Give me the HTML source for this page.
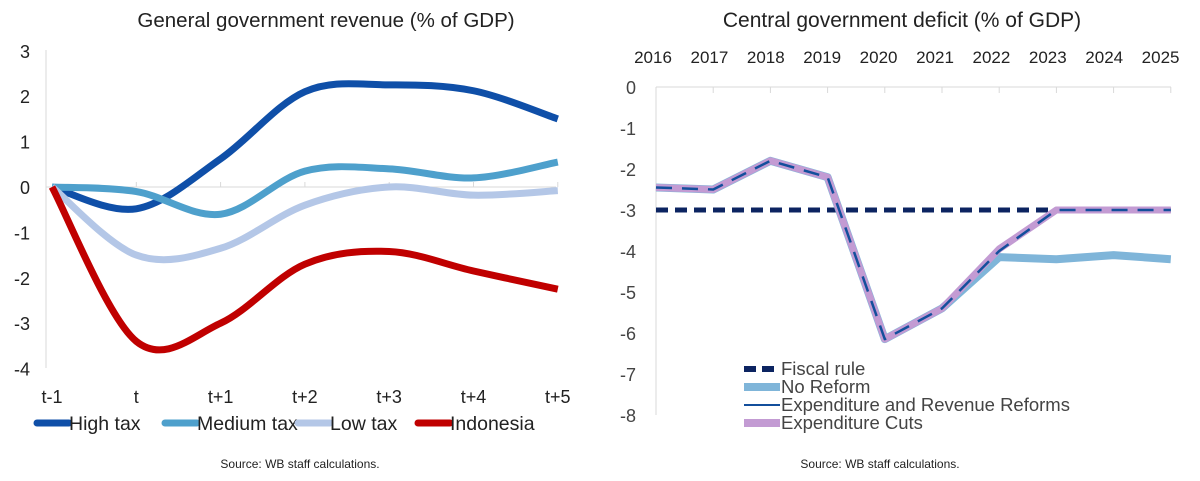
<!DOCTYPE html>
<html><head><meta charset="utf-8"><style>
body{margin:0;background:#fff;width:1200px;height:481px;overflow:hidden;font-family:"Liberation Sans",sans-serif}
svg{position:absolute;left:0;top:0}
</style></head><body>
<svg width="1200" height="481" id="s">
<text x="326" y="27" font-size="20.5" text-anchor="middle" fill="#222">General government revenue (% of GDP)</text>
<text x="902" y="27" font-size="21" text-anchor="middle" fill="#222">Central government deficit (% of GDP)</text>
<text x="300" y="468" font-size="12" text-anchor="middle" fill="#222">Source: WB staff calculations.</text>
<text x="880" y="468" font-size="12" text-anchor="middle" fill="#222">Source: WB staff calculations.</text>
<g id="L"></g><g id="R"></g>
</svg>
<script>
// left chart data
const leftCats=["t-1","t","t+1","t+2","t+3","t+4","t+5"];
const leftTicks=[3,2,1,0,-1,-2,-3,-4];
const highTax=[0,-0.48,0.62,2.1,2.25,2.12,1.5];
const medTax=[0,-0.1,-0.6,0.35,0.4,0.2,0.55];
const lowTax=[0,-1.5,-1.35,-0.4,0.0,-0.18,-0.08];
const indonesia=[0,-3.4,-3.0,-1.7,-1.42,-1.85,-2.25];
// right chart data
const years=["2016","2017","2018","2019","2020","2021","2022","2023","2024","2025"];
const rightTicks=[0,-1,-2,-3,-4,-5,-6,-7,-8];
const fiscalRule=[-3,-3,-3,-3,-3,-3,-3,-3,-3,-3];
const noReform=[-2.45,-2.5,-1.8,-2.2,-6.15,-5.4,-4.15,-4.2,-4.1,-4.2];
const expRev=[-2.45,-2.5,-1.8,-2.2,-6.15,-5.4,-4.0,-3.0,-3.0,-3.0];
const expCuts=[-2.45,-2.5,-1.8,-2.2,-6.15,-5.4,-3.95,-3.0,-3.0,-3.0];

const NS="http://www.w3.org/2000/svg";
function mk(p,t,a){const e=document.createElementNS(NS,t);for(const k in a)e.setAttribute(k,a[k]);p.appendChild(e);return e;}
const L=document.getElementById('L'),R=document.getElementById('R');
const lx=i=>52+i*84.3, ly=v=>187-v*45.4;
let ax=mk(L,'line',{x1:46,y1:50,x2:46,y2:368,stroke:'#d9d9d9'});

let zl=mk(L,'line',{x1:46,y1:187,x2:556,y2:187,stroke:'#d9d9d9'});

leftTicks.forEach(v=>{const t=mk(L,'text',{x:30,y:ly(v)+7,'font-size':18,'text-anchor':'end',fill:'#222'});t.textContent=v;
});
leftCats.forEach((c,i)=>{const t=mk(L,'text',{x:lx(i),y:403,'font-size':18,'text-anchor':'middle',fill:'#222'});t.textContent=c;

if(i>0){mk(L,'line',{x1:lx(i),y1:182,x2:lx(i),y2:187,stroke:'#d9d9d9'});}});
function smooth(vals){const p=vals.map((v,i)=>[lx(i),ly(v)]);let d=`M${p[0][0]},${p[0][1]}`;
for(let i=0;i<p.length-1;i++){const p0=p[Math.max(0,i-1)],p1=p[i],p2=p[i+1],p3=p[Math.min(p.length-1,i+2)];
const c1=[p1[0]+(p2[0]-p0[0])/6,p1[1]+(p2[1]-p0[1])/6],c2=[p2[0]-(p3[0]-p1[0])/6,p2[1]-(p3[1]-p1[1])/6];
d+=` C${c1[0]},${c1[1]} ${c2[0]},${c2[1]} ${p2[0]},${p2[1]}`;}return d;}
[[highTax,'#0f4fa8','high-tax-line'],[medTax,'#4ea0cc','medium-tax-line'],[lowTax,'#b4c7e7','low-tax-line'],[indonesia,'#c00000','indonesia-line']].forEach(([v,c,n])=>{
const e=mk(L,'path',{d:smooth(v),fill:'none',stroke:c,'stroke-width':7});
});
[['High tax','#0f4fa8',37],['Medium tax','#4ea0cc',165],['Low tax','#b4c7e7',298],['Indonesia','#c00000',418]].forEach(([t,c,x])=>{
const g=mk(L,'g',{});
mk(g,'line',{x1:x,y1:423,x2:x+32,y2:423,stroke:c,'stroke-width':7,'stroke-linecap':'round'});
const tx=mk(g,'text',{x:x+32,y:430,'font-size':19.5,fill:'#222'});tx.textContent=t;});
// right chart
const rx=i=>656+i*57.2, ry=v=>87-v*41;
let ra=mk(R,'line',{x1:656,y1:87,x2:656,y2:415,stroke:'#d9d9d9'});

let rt=mk(R,'line',{x1:656,y1:87,x2:1171,y2:87,stroke:'#d9d9d9'});

rightTicks.forEach(v=>{const t=mk(R,'text',{x:636,y:ry(v)+7,'font-size':18,'text-anchor':'end',fill:'#444'});t.textContent=v;
});
years.forEach((y,i)=>{const t=mk(R,'text',{x:rx(i)-3-i*0.8,y:63,'font-size':17,'text-anchor':'middle',fill:'#222'});t.textContent=y;

mk(R,'line',{x1:rx(i),y1:87,x2:rx(i),y2:93,stroke:'#d9d9d9'});});
const pl=v=>v.map((x,i)=>`${rx(i)},${ry(x)}`).join(' ');
[[fiscalRule,'#0c2461',5,'12 7','fiscal-rule-line'],[noReform,'#7fb5d9',8,'','no-reform-line'],[expCuts,'#c39bd3',7,'','expenditure-cuts-line'],[expRev,'#134f9c',2.5,'16 10','exp-rev-reforms-line']].forEach(([v,c,w,da,n])=>{
const a={points:pl(v),fill:'none',stroke:c,'stroke-width':w,'stroke-linejoin':'round'};if(da)a['stroke-dasharray']=da;
const e=mk(R,'polyline',a);});
[['Fiscal rule','#0c2461',6,'12 6',369],['No Reform','#7fb5d9',8,'',387],['Expenditure and Revenue Reforms','#134f9c',2,'',405],['Expenditure Cuts','#c39bd3',8,'',423]].forEach(([t,c,w,da,y])=>{
const g=mk(R,'g',{});
const a={x1:744,y1:y,x2:780,y2:y,stroke:c,'stroke-width':w};if(da)a['stroke-dasharray']=da;mk(g,'line',a);
const tx=mk(g,'text',{x:781,y:y+6,'font-size':18.5,fill:'#444'});tx.textContent=t;});
</script>
</body></html>
